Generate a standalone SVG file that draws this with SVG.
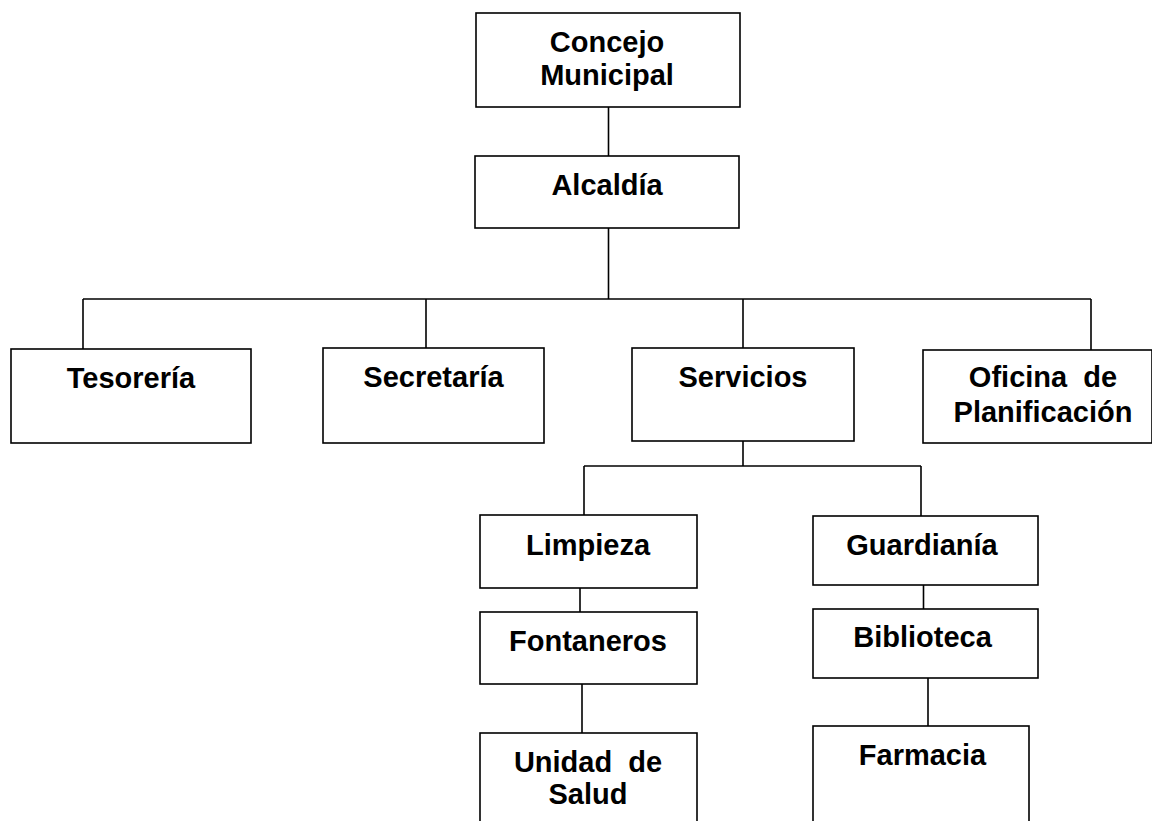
<svg xmlns="http://www.w3.org/2000/svg" width="1152" height="821" viewBox="0 0 1152 821">
<style>
.box{fill:#fff;stroke:#000;stroke-width:1.6}
.lbl{font-family:"Liberation Sans",Arial,sans-serif;font-weight:bold;font-size:29px;fill:#000;text-anchor:middle;white-space:pre}
.con{stroke:#000;stroke-width:1.6;fill:none}
</style>
<rect width="1152" height="821" fill="#fff"/>
<g id="connectors" class="con">
<line x1="608.5" y1="107" x2="608.5" y2="156"/>
<line x1="608.5" y1="228" x2="608.5" y2="299"/>
<line x1="83" y1="299" x2="1091" y2="299"/>
<line x1="83" y1="299" x2="83" y2="349"/>
<line x1="426" y1="299" x2="426" y2="348"/>
<line x1="743" y1="299" x2="743" y2="348"/>
<line x1="1091" y1="299" x2="1091" y2="350"/>
<line x1="743" y1="441" x2="743" y2="466"/>
<line x1="584" y1="466" x2="921" y2="466"/>
<line x1="584" y1="466" x2="584" y2="515"/>
<line x1="921" y1="466" x2="921" y2="516"/>
<line x1="580" y1="588" x2="580" y2="612"/>
<line x1="582" y1="684" x2="582" y2="733"/>
<line x1="923.5" y1="585" x2="923.5" y2="609"/>
<line x1="928" y1="678" x2="928" y2="726"/>
</g>
<g id="concejo"><rect class="box" x="476" y="13" width="264" height="94"/><text class="lbl" x="607" y="52">Concejo</text><text class="lbl" x="607" y="85">Municipal</text></g>
<g id="alcaldia"><rect class="box" x="475" y="156" width="264" height="72"/><text class="lbl" x="607" y="195">Alcaldía</text></g>
<g id="tesoreria"><rect class="box" x="11" y="349" width="240" height="94"/><text class="lbl" x="131" y="388">Tesorería</text></g>
<g id="secretaria"><rect class="box" x="323" y="348" width="221" height="95"/><text class="lbl" x="433.5" y="387">Secretaría</text></g>
<g id="servicios"><rect class="box" x="632" y="348" width="222" height="93"/><text class="lbl" x="743" y="387">Servicios</text></g>
<g id="oficina"><rect class="box" x="923" y="350" width="229" height="93"/><text class="lbl" x="1043" y="387">Oficina  de</text><text class="lbl" x="1043" y="422">Planificación</text></g>
<g id="limpieza"><rect class="box" x="480" y="515" width="217" height="73"/><text class="lbl" x="588" y="555">Limpieza</text></g>
<g id="fontaneros"><rect class="box" x="480" y="612" width="217" height="72"/><text class="lbl" x="588" y="651">Fontaneros</text></g>
<g id="unidad"><rect class="box" x="480" y="733" width="217" height="100"/><text class="lbl" x="588" y="772">Unidad  de</text><text class="lbl" x="588" y="804">Salud</text></g>
<g id="guardiania"><rect class="box" x="813" y="516" width="225" height="69"/><text class="lbl" x="922" y="555">Guardianía</text></g>
<g id="biblioteca"><rect class="box" x="813" y="609" width="225" height="69"/><text class="lbl" x="922.5" y="647">Biblioteca</text></g>
<g id="farmacia"><rect class="box" x="813" y="726" width="216" height="100"/><text class="lbl" x="922.5" y="765">Farmacia</text></g>
</svg>
